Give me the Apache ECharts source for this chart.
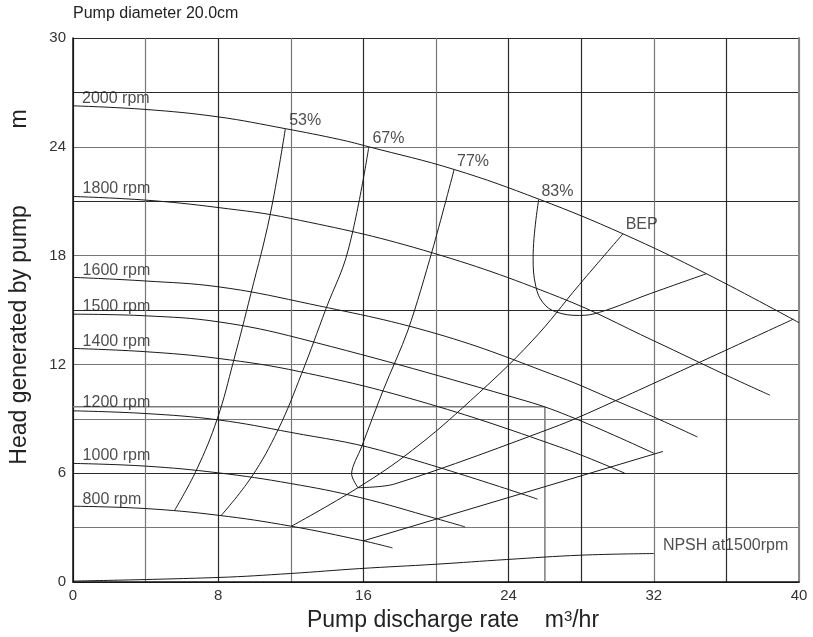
<!DOCTYPE html>
<html><head><meta charset="utf-8">
<script src="https://cdn.jsdelivr.net/npm/echarts@6/dist/echarts.min.js"></script>
<style>html,body{margin:0;padding:0;background:#fff}#c{width:813px;height:637px}</style>
</head><body><div id="c"></div>
<script>
// ---- data ----
const xTickLabels = [0, 8, 16, 24, 32, 40];
const yTickLabels = [0, 6, 12, 18, 24, 30];

// head curves (Q m3/hr, H m)
const rpm2000 = [[0,26.26],[4,26.06],[8,25.65],[11.7,25.0],[14.7,24.4],[16.3,24.0],[21.0,22.75],[25.7,21.1],[30.3,19.2],[34.9,17.0],[40,14.3]];
const rpm1800 = [[0,21.26],[4,21.06],[8,20.65],[12,20.05],[19.3,18.3],[26.8,15.7],[32,13.3],[36,11.4],[38.4,10.3]];
const rpm1600 = [[0,16.8],[4,16.6],[8,16.28],[12.5,15.45],[20,13.7],[26.8,11.3],[29.9,10.0],[32,9.1],[34.4,8.0]];
const rpm1500 = [[0,14.77],[4,14.68],[8,14.35],[12.5,13.43],[24.9,10.0],[27.7,9.0],[32.0,7.1]];
const rpm1400 = [[0,12.88],[4,12.7],[8,12.33],[12.5,11.6],[19.0,10.0],[26.8,7.45],[30.4,6.0]];
const rpm1200 = [[0,9.44],[4,9.29],[8,8.94],[12,8.25],[16.9,7.27],[25.6,4.57]];
const rpm1000 = [[0,6.54],[4,6.39],[8,6.02],[12,5.43],[15.8,4.66],[20,3.5],[21.6,3.04]];
const rpm800  = [[0,4.18],[4,4.05],[8,3.68],[12,3.08],[16,2.27],[17.6,1.88]];
const npsh1500 = [[0,0.05],[8,0.25],[12,0.47],[15.8,0.74],[20,0.98],[23.9,1.24],[28,1.48],[32,1.57]];

// efficiency contours
const eff53 = [[11.7,25.0],[10.85,20.2],[9.8,15.9],[8.85,12.2],[7.95,9.0],[6.8,6.17],[5.58,3.92]];
const eff67 = [[16.3,24.0],[15.16,18.3],[13.95,15.1],[12.6,11.5],[11.3,8.4],[9.84,5.8],[8.15,3.65]];
const eff77Left = [[21.0,22.75],[19.8,18.3],[18.46,13.9],[17.1,10.6],[15.9,7.45],[15.35,5.95],[15.7,5.2]];
const eff77Right = [[15.7,5.2],[17.7,5.4],[26.8,8.65],[29.9,10.0],[39.7,14.5]];
const eff83 = [[25.66,21.1],[25.35,17.9],[25.5,16.3],[25.9,15.4],[26.6,14.9],[27.9,14.7],[29.0,14.87],[31.8,15.9],[34.9,17.0]];
const bepLine = [[12.04,3.08],[15.7,5.2],[18.7,7.27],[21.9,10.0],[25.3,13.3],[27.9,16.4],[30.3,19.2]];
const lowerLine = [[16.0,2.27],[32.5,7.2]];

// reference lines
const refHorizontal = [[0,9.66],[26,9.66]];
const refVertical = [[26,0],[26,9.66]];

// annotation texts and anchors (left edge, vertical centre)
const annotationTexts = ['2000 rpm','1800 rpm','1600 rpm','1500 rpm','1400 rpm','1200 rpm','1000 rpm','800 rpm','53%','67%','77%','83%','BEP','NPSH at1500rpm'];
const annotationAnchors = [[0.5,26.68],[0.53,21.7],[0.53,17.19],[0.53,15.18],[0.53,13.28],[0.53,9.88],[0.53,6.99],[0.53,4.56],[11.91,25.47],[16.5,24.47],[21.16,23.2],[25.81,21.54],[30.45,19.7],[32.5,2.02]];

// ---- chart ----
const FONT = 'Liberation Sans, Arial, Helvetica, sans-serif';
const LINE = '#1a1a1a';
function curve(name, data, smooth) {
  return { name, type: 'line', data, smooth: smooth, symbol: 'none', silent: true,
    lineStyle: { color: LINE, width: 1 }, z: 3 };
}
function ref(name, data) {
  return { name, type: 'line', data, symbol: 'none', silent: true,
    lineStyle: { color: '#7a7a7a', width: 1.5 }, z: 2 };
}
const series = [
  curve('2000 rpm', rpm2000, 0.4), curve('1800 rpm', rpm1800, 0.4), curve('1600 rpm', rpm1600, 0.4),
  curve('1500 rpm', rpm1500, 0.4), curve('1400 rpm', rpm1400, 0.4), curve('1200 rpm', rpm1200, 0.4),
  curve('1000 rpm', rpm1000, 0.4), curve('800 rpm', rpm800, 0.4), curve('NPSH', npsh1500, 0.4),
  curve('53%', eff53, 0.4), curve('67%', eff67, 0.4), curve('77% a', eff77Left, 0.3),
  curve('77% b', eff77Right, 0.3), curve('83%', eff83, 0.4), curve('BEP', bepLine, 0.4),
  curve('lower', lowerLine, false),
  ref('refH', refHorizontal), ref('refV', refVertical),
  { name: 'labels', type: 'scatter', symbolSize: 0, silent: true, z: 5,
    data: annotationAnchors.map((p, i) => ({ value: p, label: { formatter: annotationTexts[i] } })),
    label: { show: true, position: [0, 0], align: 'left', verticalAlign: 'middle',
      fontSize: 16, color: '#222', fontFamily: FONT } }
];

const DARK = '#2a2a2a', GRAY = '#777';
const xGridColors = [DARK, GRAY, DARK, GRAY, DARK, GRAY, DARK, DARK, GRAY, DARK, GRAY];
const yGridColors = [DARK, GRAY, DARK, GRAY, GRAY, DARK, GRAY, DARK, GRAY, DARK, DARK];

const chart = echarts.init(document.getElementById('c'), null, { renderer: 'canvas' });
chart.setOption({
  animation: false,
  backgroundColor: '#fff',
  textStyle: { fontFamily: FONT },
  title: { text: 'Pump diameter 20.0cm', left: 73, top: 6, padding: 0,
    textStyle: { fontSize: 16, fontWeight: 'normal', color: '#222', fontFamily: FONT } },
  grid: { left: 73, right: 14, top: 38, bottom: 55 },
  xAxis: {
    type: 'value', min: 0, max: 40, interval: 4,
    name: 'Pump discharge rate    m{sup|3}/hr', nameLocation: 'middle', nameGap: 27,
    nameTextStyle: { fontSize: 23, color: '#222', fontFamily: FONT, padding: [0, 0, 0, 34],
      rich: { sup: { fontSize: 15, color: '#222', fontFamily: FONT, verticalAlign: 'top' } } },
    axisLine: { show: true, lineStyle: { color: '#111', width: 1.5 } },
    axisTick: { show: false },
    axisLabel: { fontSize: 15, color: '#333', margin: 6, fontFamily: FONT,
      formatter: v => xTickLabels.includes(v) ? String(v) : '' },
    splitLine: { show: true, lineStyle: { color: xGridColors, width: 1.2 } }
  },
  yAxis: [{
    type: 'value', min: 0, max: 30, interval: 3,
    name: 'Head generated by pump            m', nameLocation: 'middle', nameGap: 42,
    nameTextStyle: { fontSize: 23, color: '#222', fontFamily: FONT, padding: [0, 0, 0, 46] },
    axisLine: { show: true, lineStyle: { color: '#111', width: 1.5 } },
    axisTick: { show: false },
    axisLabel: { fontSize: 15, color: '#333', margin: 7, fontFamily: FONT,
      formatter: v => yTickLabels.includes(v) ? String(v) : '' },
    splitLine: { show: true, lineStyle: { color: yGridColors, width: 1.2 } }
  }, {
    type: 'value', min: 0, max: 30, interval: 3, position: 'right',
    axisLine: { show: true, lineStyle: { color: '#888', width: 2 } },
    axisTick: { show: false }, axisLabel: { show: false }, splitLine: { show: false }
  }],
  series
});
</script>
</body></html>
